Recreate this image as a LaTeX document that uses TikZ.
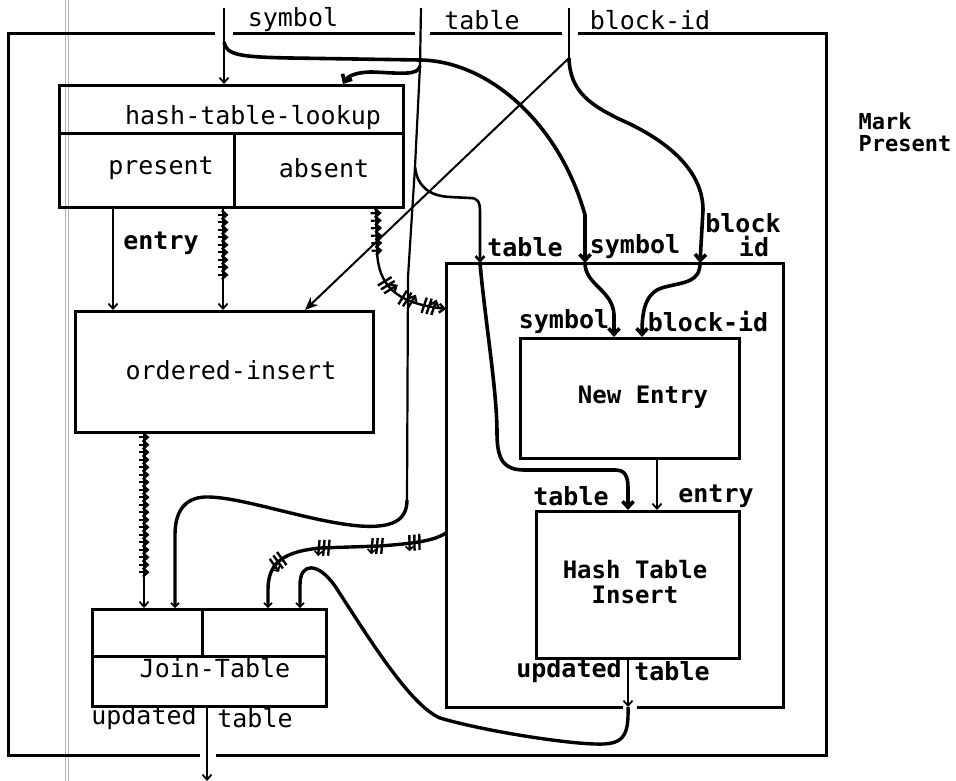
\documentclass[tikz,border=0pt]{standalone}
\usepackage{fontspec}
\setmonofont{DejaVu Sans Mono}
\usetikzlibrary{arrows.meta,decorations.markings,calc,positioning}

\begin{document}
\begin{tikzpicture}[x=1pt,y=-1pt,font=\ttfamily\fontsize{25}{25}\selectfont]

\tikzset{box/.style = {draw,line width=2.8pt,inner sep=0pt,anchor=north west}}
\tikzset{frame/.style = {line width=3pt}}
\tikzset{arr/.style = {line width=1.8pt,-{Straight Barb[length=5pt,width=9pt]}}}
\tikzset{harr/.style = {line width=3.6pt,-{Straight Barb[length=6pt,width=11pt]}}}
\tikzset{warr/.style = {line width=3.4pt,-{Straight Barb[length=4pt,width=8pt,line width=1.6pt]}}}
\tikzset{ticks/.style = {postaction={decorate,decoration={markings,
  mark=between positions #1 step 7.5pt with {\draw[line width=2.2pt] (0,-5.5pt) -- (0,5.5pt);}}}}}
\tikzset{tri/.style = {postaction={decorate,decoration={markings,
  mark=at position #1 with {\draw[line width=2.4pt] (-6pt,-8pt) -- (-4pt,8pt) (-1pt,-8pt) -- (1pt,8pt) (4pt,-8pt) -- (6pt,8pt);}}}}}
\tikzset{bold/.style = {font=\ttfamily\bfseries\fontsize{25}{25}\selectfont}}
\tikzset{bbox/.style = {font=\ttfamily\bfseries\fontsize{24}{25}\selectfont}}

\useasboundingbox (0,0) rectangle (956,781);

% margin of the scan
\draw[gray!60,line width=0.6pt] (65,0) -- (65,781) (68,0) -- (68,781);

% vertices
\node[box,minimum width=344pt,minimum height=122pt] (htl) at (58,84) {};
\node[box,minimum width=298pt,minimum height=121pt] (ordins) at (74,310) {};
\node[box,minimum width=234pt,minimum height=97pt] (join) at (91,608) {};
\node[box,minimum width=219pt,minimum height=120pt] (newent) at (519,337) {};
\node[box,minimum width=203pt,minimum height=147pt] (hti) at (535,510) {};
\node[inner sep=0pt,outer sep=0pt,minimum width=337pt,minimum height=444pt,anchor=north west] (grp) at (446,263) {};

\draw[frame] (htl.west |- 0,134) -- (htl.east |- 0,134);
\draw[frame] (234,134) -- (234,0 |- htl.south);
\draw[frame] (join.west |- 0,656) -- (join.east |- 0,656);
\draw[frame] (202,0 |- join.north) -- (202,656);

\node (htltxt) at (253,118) {hash-table-lookup};
\node (pres) at (161,168) {present};
\node (abs) at (324,168) {absent};
\node (ordtxt) at (231,370) {ordered-insert};
\node (jointxt) at (215,668) {Join-Table};
\node[bbox] (netxt) at (643,397) {New Entry};
\node[bbox,align=center] (htitxt) at (635,582) {Hash Table\\Insert};
\node[anchor=west,align=left,font=\ttfamily\bfseries\fontsize{22}{22}\selectfont] (mark) at (855,132) {Mark\\Present};

% frames
\draw[frame] (215,34) -- (8,34) -- (8,755) -- (200,755);
\draw[frame] (216,755) -- (826,755) -- (826,34) -- (578,34);
\draw[frame] (233,34) -- (415,34);
\draw[frame] (430,34) -- (562,34);
\draw[frame] (623,0 |- grp.south) -- (grp.south west) -- (grp.north west) -- (grp.north east) -- (grp.south east) -- (637,0 |- grp.south);

% inputs
\coordinate (symtop) at (224,8);
\coordinate (tabtop) at (421,8);
\coordinate (bidtop) at (569,8);
\coordinate (symbr) at (224,42);
\coordinate (tabbr) at (420,66);
\coordinate (tabbr2) at (415,167);
\coordinate (tabdn) at (407,500);
\coordinate (bidbr) at (569,58);
\coordinate (outend) at (207,781);

\node (symlbl) at (293,20) {symbol};
\node (tablbl) at (482,20) {table};
\node (bidlbl) at (650,20) {block-id};

%edges
\draw[arr] (symtop) -- (symtop |- htl.north);
\draw[harr] (symbr) .. controls (226,55) and (240,57) .. (290,58) -- (420,60)
  .. controls (490,61) and (560,125) .. (585,215) -- (585,0 |- grp.north);
\draw[harr] (585,0 |- grp.north) .. controls (585,285) and (613,290) .. (614,315) -- (614,0 |- newent.north);

\draw[line width=1.8pt] (bidtop) -- (bidbr);
\draw[harr] (bidbr) .. controls (570,92) and (590,106) .. (630,124)
  .. controls (675,146) and (703,175) .. (703,210) -- (700,0 |- grp.north);
\draw[harr] (700,0 |- grp.north) .. controls (700,282) and (685,282) .. (665,287)
  .. controls (648,291) and (642,305) .. (642,0 |- newent.north);
\draw[line width=2pt,-{Stealth[length=13pt,width=11pt]}] (bidbr) -- (305,0 |- ordins.north);

\draw[line width=2.2pt] (tabtop) -- (tabbr) -- (tabbr2) -- (408,277) -- (tabdn);
\draw[harr] (tabbr) .. controls (418,76) and (400,73) .. (372,72)
  .. controls (355,72) and (347,77) .. (343,0 |- htl.north);
\draw[arr,line width=2.6pt] (tabbr2) .. controls (417,185) and (428,196) .. (450,197) -- (470,198)
  .. controls (478,198) and (480,202) .. (480,212) -- (480,0 |- grp.north);
\draw[harr] (480,0 |- grp.north) .. controls (485,320) and (497,390) .. (497,433)
  .. controls (497,462) and (505,470) .. (525,470) -- (615,470)
  .. controls (625,470) and (628,476) .. (628,488) -- (628,0 |- hti.north);
\draw[warr] (tabdn) .. controls (407,522) and (390,528) .. (360,526)
  .. controls (310,522) and (240,496) .. (205,497)
  .. controls (182,498) and (175,515) .. (175,535) -- (175,0 |- join.north);

\draw[arr] (113,0 |- htl.south) -- (113,0 |- ordins.north);
\draw[arr,ticks={0.06 and 0.7}] (223,0 |- htl.south) -- (223,0 |- ordins.north);
\draw[arr,line width=2.4pt,ticks={0.03 and 0.32},tri=0.55,tri=0.72,tri=0.88]
  (376,0 |- htl.south) -- (377,250) .. controls (378,285) and (395,303) .. (grp.west |- 0,309);
\draw[arr,ticks={0.02 and 0.83}] (144,0 |- ordins.south) -- (144,0 |- join.north);

\draw[arr] (657,0 |- newent.south) -- (657,0 |- hti.north);
\draw[arr] (628,0 |- hti.south) -- (628,0 |- grp.south);
\draw[warr] (628,0 |- grp.south) .. controls (629,738) and (622,745) .. (595,744)
  .. controls (560,743) and (480,730) .. (440,718)
  .. controls (410,705) and (370,640) .. (335,586)
  .. controls (318,562) and (300,562) .. (300,585) -- (300,0 |- join.north);
\draw[warr,tri=0.15,tri=0.32,tri=0.56,tri=0.78] (grp.west |- 0,533) .. controls (435,540) and (420,543) .. (380,546)
  -- (320,548) .. controls (280,552) and (268,565) .. (268,590) -- (268,0 |- join.north);
\draw[arr] (207,0 |- join.south) -- (outend);

% labels
\node[bold] (entlbl) at (161,243) {entry};
\node[bold] (tin) at (525,247) {table};
\node[bold] (sin) at (635,247) {symbol};
\node[bold] (bin) at (743,223) {block};
\node[bold] (iin) at (754,247) {id};
\node[bold] (sne) at (564,322) {symbol};
\node[bold] (bne) at (708,322) {block-id};
\node[bold] (thti) at (571,496) {table};
\node[bold] (ehti) at (716,496) {entry};
\node[bold] (uhti) at (569,671) {updated};
\node[bold] (tout) at (672,671) {table};
\node (ujoin) at (144,718) {updated};
\node (tjoin) at (255,718) {table};

\end{tikzpicture}
\end{document}
